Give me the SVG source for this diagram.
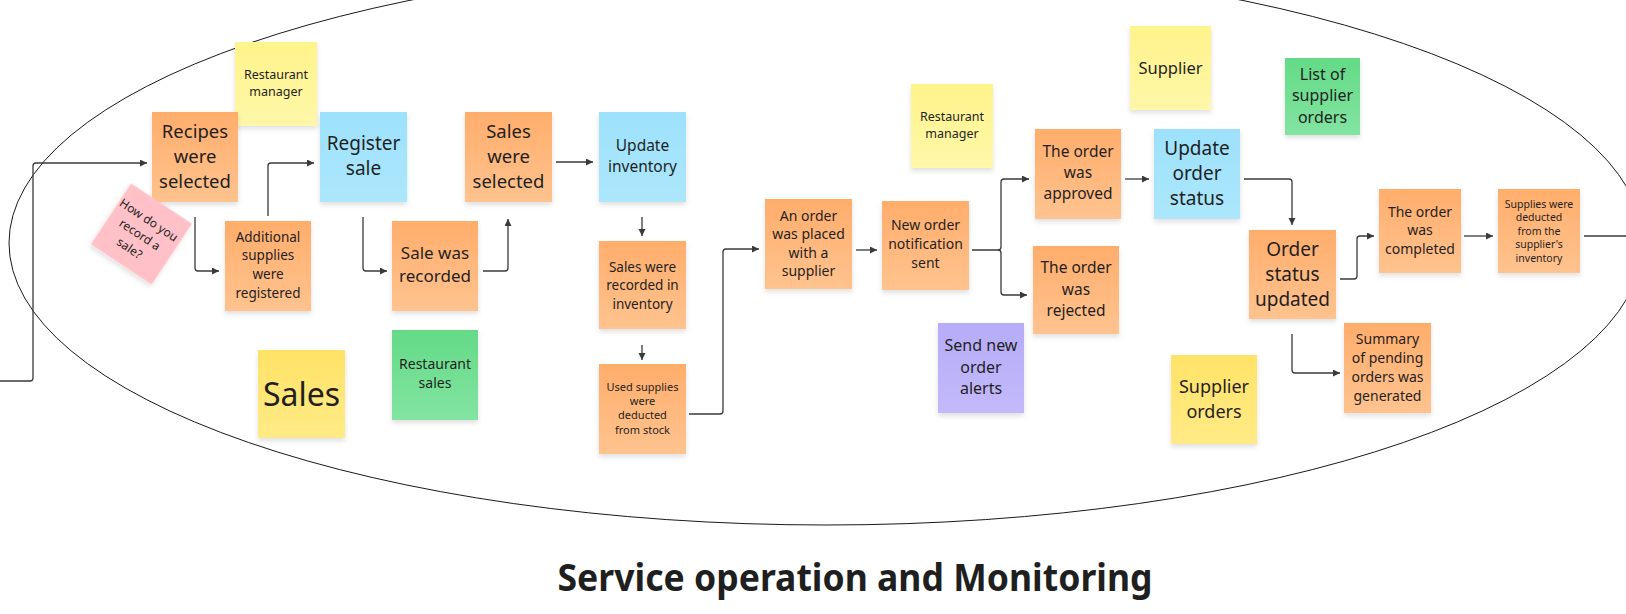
<svg xmlns="http://www.w3.org/2000/svg" width="1626" height="614" viewBox="0 0 1626 614">
<defs>
  <linearGradient id="gOrange" x1="0" y1="0" x2="0" y2="1"><stop offset="0" stop-color="#FFAD6B"/><stop offset="1" stop-color="#FFC38F"/></linearGradient>
  <linearGradient id="gBlue" x1="0" y1="0" x2="0" y2="1"><stop offset="0" stop-color="#9DE1FC"/><stop offset="1" stop-color="#ACE7FC"/></linearGradient>
  <linearGradient id="gYellowL" x1="0" y1="0" x2="0" y2="1"><stop offset="0" stop-color="#FFF38B"/><stop offset="1" stop-color="#FFF7A9"/></linearGradient>
  <linearGradient id="gYellowS" x1="0" y1="0" x2="0" y2="1"><stop offset="0" stop-color="#FFE266"/><stop offset="1" stop-color="#FFEA86"/></linearGradient>
  <linearGradient id="gGreen" x1="0" y1="0" x2="0" y2="1"><stop offset="0" stop-color="#64DA87"/><stop offset="1" stop-color="#82E4A1"/></linearGradient>
  <linearGradient id="gPurple" x1="0" y1="0" x2="0" y2="1"><stop offset="0" stop-color="#B6ACF8"/><stop offset="1" stop-color="#C3B9FA"/></linearGradient>
  <filter id="sh" x="-20%" y="-20%" width="140%" height="150%">
    <feDropShadow dx="0" dy="3" stdDeviation="2.5" flood-color="#000" flood-opacity="0.12"/>
  </filter>
  <marker id="arr" markerUnits="userSpaceOnUse" markerWidth="8" markerHeight="8" refX="7" refY="3.5" orient="auto">
    <path d="M0,0 L7,3.5 L0,7 z" fill="#3a3a3a"/>
  </marker>
</defs>
<style>
  .st { filter: url(#sh); }
  .o { fill: url(#gOrange); }
  .b { fill: url(#gBlue); }
  .yl { fill: url(#gYellowL); }
  .ys { fill: url(#gYellowS); }
  .g { fill: url(#gGreen); }
  .p { fill: url(#gPurple); }
  .pk { fill: #FFC1C7; }
  text { font-family: "Noto Sans", "Open Sans", sans-serif; fill: #1f1f1f; text-anchor: middle; }
  .c { fill: none; stroke: #3a3a3a; stroke-width: 1.3; stroke-linejoin: round; }
  .ca { marker-end: url(#arr); }
</style>

<ellipse cx="826" cy="243" rx="817" ry="282" fill="none" stroke="#1a1a1a" stroke-width="1"/>

<g id="connectors">
  <path class="c ca" d="M0,381 H30 Q33,381 33,378 V166 Q33,163 36,163 H147"/>
  <path class="c ca" d="M195,217 V268 Q195,271 198,271 H219"/>
  <path class="c ca" d="M268,216 V166 Q268,163 271,163 H314"/>
  <path class="c ca" d="M363,217 V268 Q363,271 366,271 H387"/>
  <path class="c ca" d="M483,271 H505 Q508,271 508,268 V219"/>
  <path class="c ca" d="M556,162 H593"/>
  <path class="c ca" d="M642,217 V236"/>
  <path class="c ca" d="M642,345 V360"/>
  <path class="c ca" d="M689,414 H720 Q723,414 723,411 V252 Q723,249 726,249 H759"/>
  <path class="c ca" d="M856,250 H877"/>
  <path class="c ca" d="M972,250 H998 Q1001,250 1001,247 V182 Q1001,179 1004,179 H1029"/>
  <path class="c ca" d="M998,250 Q1001,250 1001,253 V292 Q1001,295 1004,295 H1027"/>
  <path class="c ca" d="M1125,179 H1149"/>
  <path class="c ca" d="M1244,179 H1289 Q1292,179 1292,182 V225"/>
  <path class="c ca" d="M1340,279 H1354 Q1357,279 1357,276 V239 Q1357,236 1360,236 H1374"/>
  <path class="c ca" d="M1464,236 H1493"/>
  <path class="c" d="M1584,236 H1626"/>
  <path class="c ca" d="M1292,334 V370 Q1292,373 1295,373 H1340"/>
</g>

<g id="rm1"><rect class="st yl" x="235" y="42" width="82" height="84"/>
  <text font-size="12.5"><tspan x="276" y="79">Restaurant</tspan><tspan x="276" y="96">manager</tspan></text></g>
<g id="recipes"><rect class="st o" x="152" y="112" width="86" height="90"/>
  <text font-size="18.5"><tspan x="195" y="138">Recipes</tspan><tspan x="195" y="163">were</tspan><tspan x="195" y="188">selected</tspan></text></g>
<g id="register"><rect class="st b" x="320" y="112" width="87" height="90"/>
  <text font-size="19"><tspan x="363.5" y="150">Register</tspan><tspan x="363.5" y="175">sale</tspan></text></g>
<g id="salesSelected"><rect class="st o" x="465" y="112" width="87" height="90"/>
  <text font-size="18.5"><tspan x="508.5" y="138">Sales</tspan><tspan x="508.5" y="163">were</tspan><tspan x="508.5" y="188">selected</tspan></text></g>
<g id="additional"><rect class="st o" x="225" y="221" width="86" height="90"/>
  <text font-size="13.5"><tspan x="268" y="241.5">Additional</tspan><tspan x="268" y="260">supplies</tspan><tspan x="268" y="278.5">were</tspan><tspan x="268" y="297.5">registered</tspan></text></g>
<g id="saleRecorded"><rect class="st o" x="392" y="221" width="86" height="90"/>
  <text font-size="17"><tspan x="435" y="258.5">Sale was</tspan><tspan x="435" y="281.5">recorded</tspan></text></g>
<g id="question" transform="translate(141.4,234) rotate(33.5)"><rect class="st pk" x="-36.5" y="-36.5" width="73" height="73"/>
  <text font-size="12"><tspan x="-1.5" y="-11.5">How do you</tspan><tspan x="-1" y="5.5">record a</tspan><tspan x="-2" y="22.5">sale?</tspan></text></g>
<g id="updateInventory"><rect class="st b" x="599" y="112" width="87" height="90"/>
  <text font-size="15.5"><tspan x="642.5" y="151">Update</tspan><tspan x="642.5" y="172">inventory</tspan></text></g>
<g id="salesRecorded"><rect class="st o" x="599" y="241" width="87" height="88"/>
  <text font-size="13.5"><tspan x="642.5" y="271.5">Sales were</tspan><tspan x="642.5" y="290">recorded in</tspan><tspan x="642.5" y="308.5">inventory</tspan></text></g>
<g id="usedSupplies"><rect class="st o" x="599" y="364" width="87" height="90"/>
  <text font-size="11"><tspan x="642.5" y="390.5">Used supplies</tspan><tspan x="642.5" y="405">were</tspan><tspan x="642.5" y="419.3">deducted</tspan><tspan x="642.5" y="433.6">from stock</tspan></text></g>
<g id="orderPlaced"><rect class="st o" x="765" y="199" width="87" height="90"/>
  <text font-size="14"><tspan x="808.5" y="220.5">An order</tspan><tspan x="808.5" y="239">was placed</tspan><tspan x="808.5" y="257.5">with a</tspan><tspan x="808.5" y="276">supplier</tspan></text></g>
<g id="notification"><rect class="st o" x="882" y="201" width="87" height="89"/>
  <text font-size="14"><tspan x="925.5" y="229.6">New order</tspan><tspan x="925.5" y="248.6">notification</tspan><tspan x="925.5" y="267.6">sent</tspan></text></g>
<g id="rm2"><rect class="st yl" x="911" y="84" width="82" height="84"/>
  <text font-size="12.5"><tspan x="952" y="121">Restaurant</tspan><tspan x="952" y="138">manager</tspan></text></g>
<g id="approved"><rect class="st o" x="1035" y="129" width="86" height="90"/>
  <text font-size="15.5"><tspan x="1078" y="157">The order</tspan><tspan x="1078" y="178">was</tspan><tspan x="1078" y="199">approved</tspan></text></g>
<g id="rejected"><rect class="st o" x="1033" y="246" width="86" height="88"/>
  <text font-size="15.5"><tspan x="1076" y="273">The order</tspan><tspan x="1076" y="295">was</tspan><tspan x="1076" y="316">rejected</tspan></text></g>
<g id="alerts"><rect class="st p" x="938" y="323" width="86" height="90"/>
  <text font-size="16"><tspan x="981" y="351">Send new</tspan><tspan x="981" y="372.5">order</tspan><tspan x="981" y="394">alerts</tspan></text></g>
<g id="supplier"><rect class="st yl" x="1130" y="26" width="81" height="84"/>
  <text font-size="16.5"><tspan x="1170.5" y="73.5">Supplier</tspan></text></g>
<g id="listOrders"><rect class="st g" x="1285" y="58" width="75" height="77"/>
  <text font-size="16"><tspan x="1322.5" y="79.5">List of</tspan><tspan x="1322.5" y="101">supplier</tspan><tspan x="1322.5" y="122.5">orders</tspan></text></g>
<g id="updateStatus"><rect class="st b" x="1154" y="129" width="86" height="90"/>
  <text font-size="19"><tspan x="1197" y="155">Update</tspan><tspan x="1197" y="180">order</tspan><tspan x="1197" y="205">status</tspan></text></g>
<g id="statusUpdated"><rect class="st o" x="1249" y="230" width="87" height="89"/>
  <text font-size="19"><tspan x="1292.5" y="255.5">Order</tspan><tspan x="1292.5" y="280.5">status</tspan><tspan x="1292.5" y="305.5">updated</tspan></text></g>
<g id="completed"><rect class="st o" x="1379" y="189" width="82" height="84"/>
  <text font-size="14"><tspan x="1420" y="216.5">The order</tspan><tspan x="1420" y="235">was</tspan><tspan x="1420" y="253.5">completed</tspan></text></g>
<g id="suppliesDeducted"><rect class="st o" x="1498" y="189" width="82" height="84"/>
  <text font-size="10.5"><tspan x="1539" y="207.5">Supplies were</tspan><tspan x="1539" y="221">deducted</tspan><tspan x="1539" y="234.5">from the</tspan><tspan x="1539" y="248">supplier's</tspan><tspan x="1539" y="261.5">inventory</tspan></text></g>
<g id="summary"><rect class="st o" x="1344" y="323" width="87" height="90"/>
  <text font-size="14"><tspan x="1387.5" y="343.5">Summary</tspan><tspan x="1387.5" y="362.5">of pending</tspan><tspan x="1387.5" y="381.5">orders was</tspan><tspan x="1387.5" y="400.5">generated</tspan></text></g>
<g id="supplierOrders"><rect class="st ys" x="1171" y="355" width="86" height="89"/>
  <text font-size="18"><tspan x="1214" y="393">Supplier</tspan><tspan x="1214" y="418">orders</tspan></text></g>
<g id="sales"><rect class="st ys" x="258" y="350" width="87" height="88"/>
  <text font-size="32"><tspan x="301.5" y="406">Sales</tspan></text></g>
<g id="restaurantSales"><rect class="st g" x="392" y="330" width="86" height="90"/>
  <text font-size="14"><tspan x="435" y="368.5">Restaurant</tspan><tspan x="435" y="387.5">sales</tspan></text></g>

<g id="title"><text x="855" y="591" font-size="38" font-weight="bold" textLength="595" lengthAdjust="spacingAndGlyphs">Service operation and Monitoring</text></g>
</svg>
